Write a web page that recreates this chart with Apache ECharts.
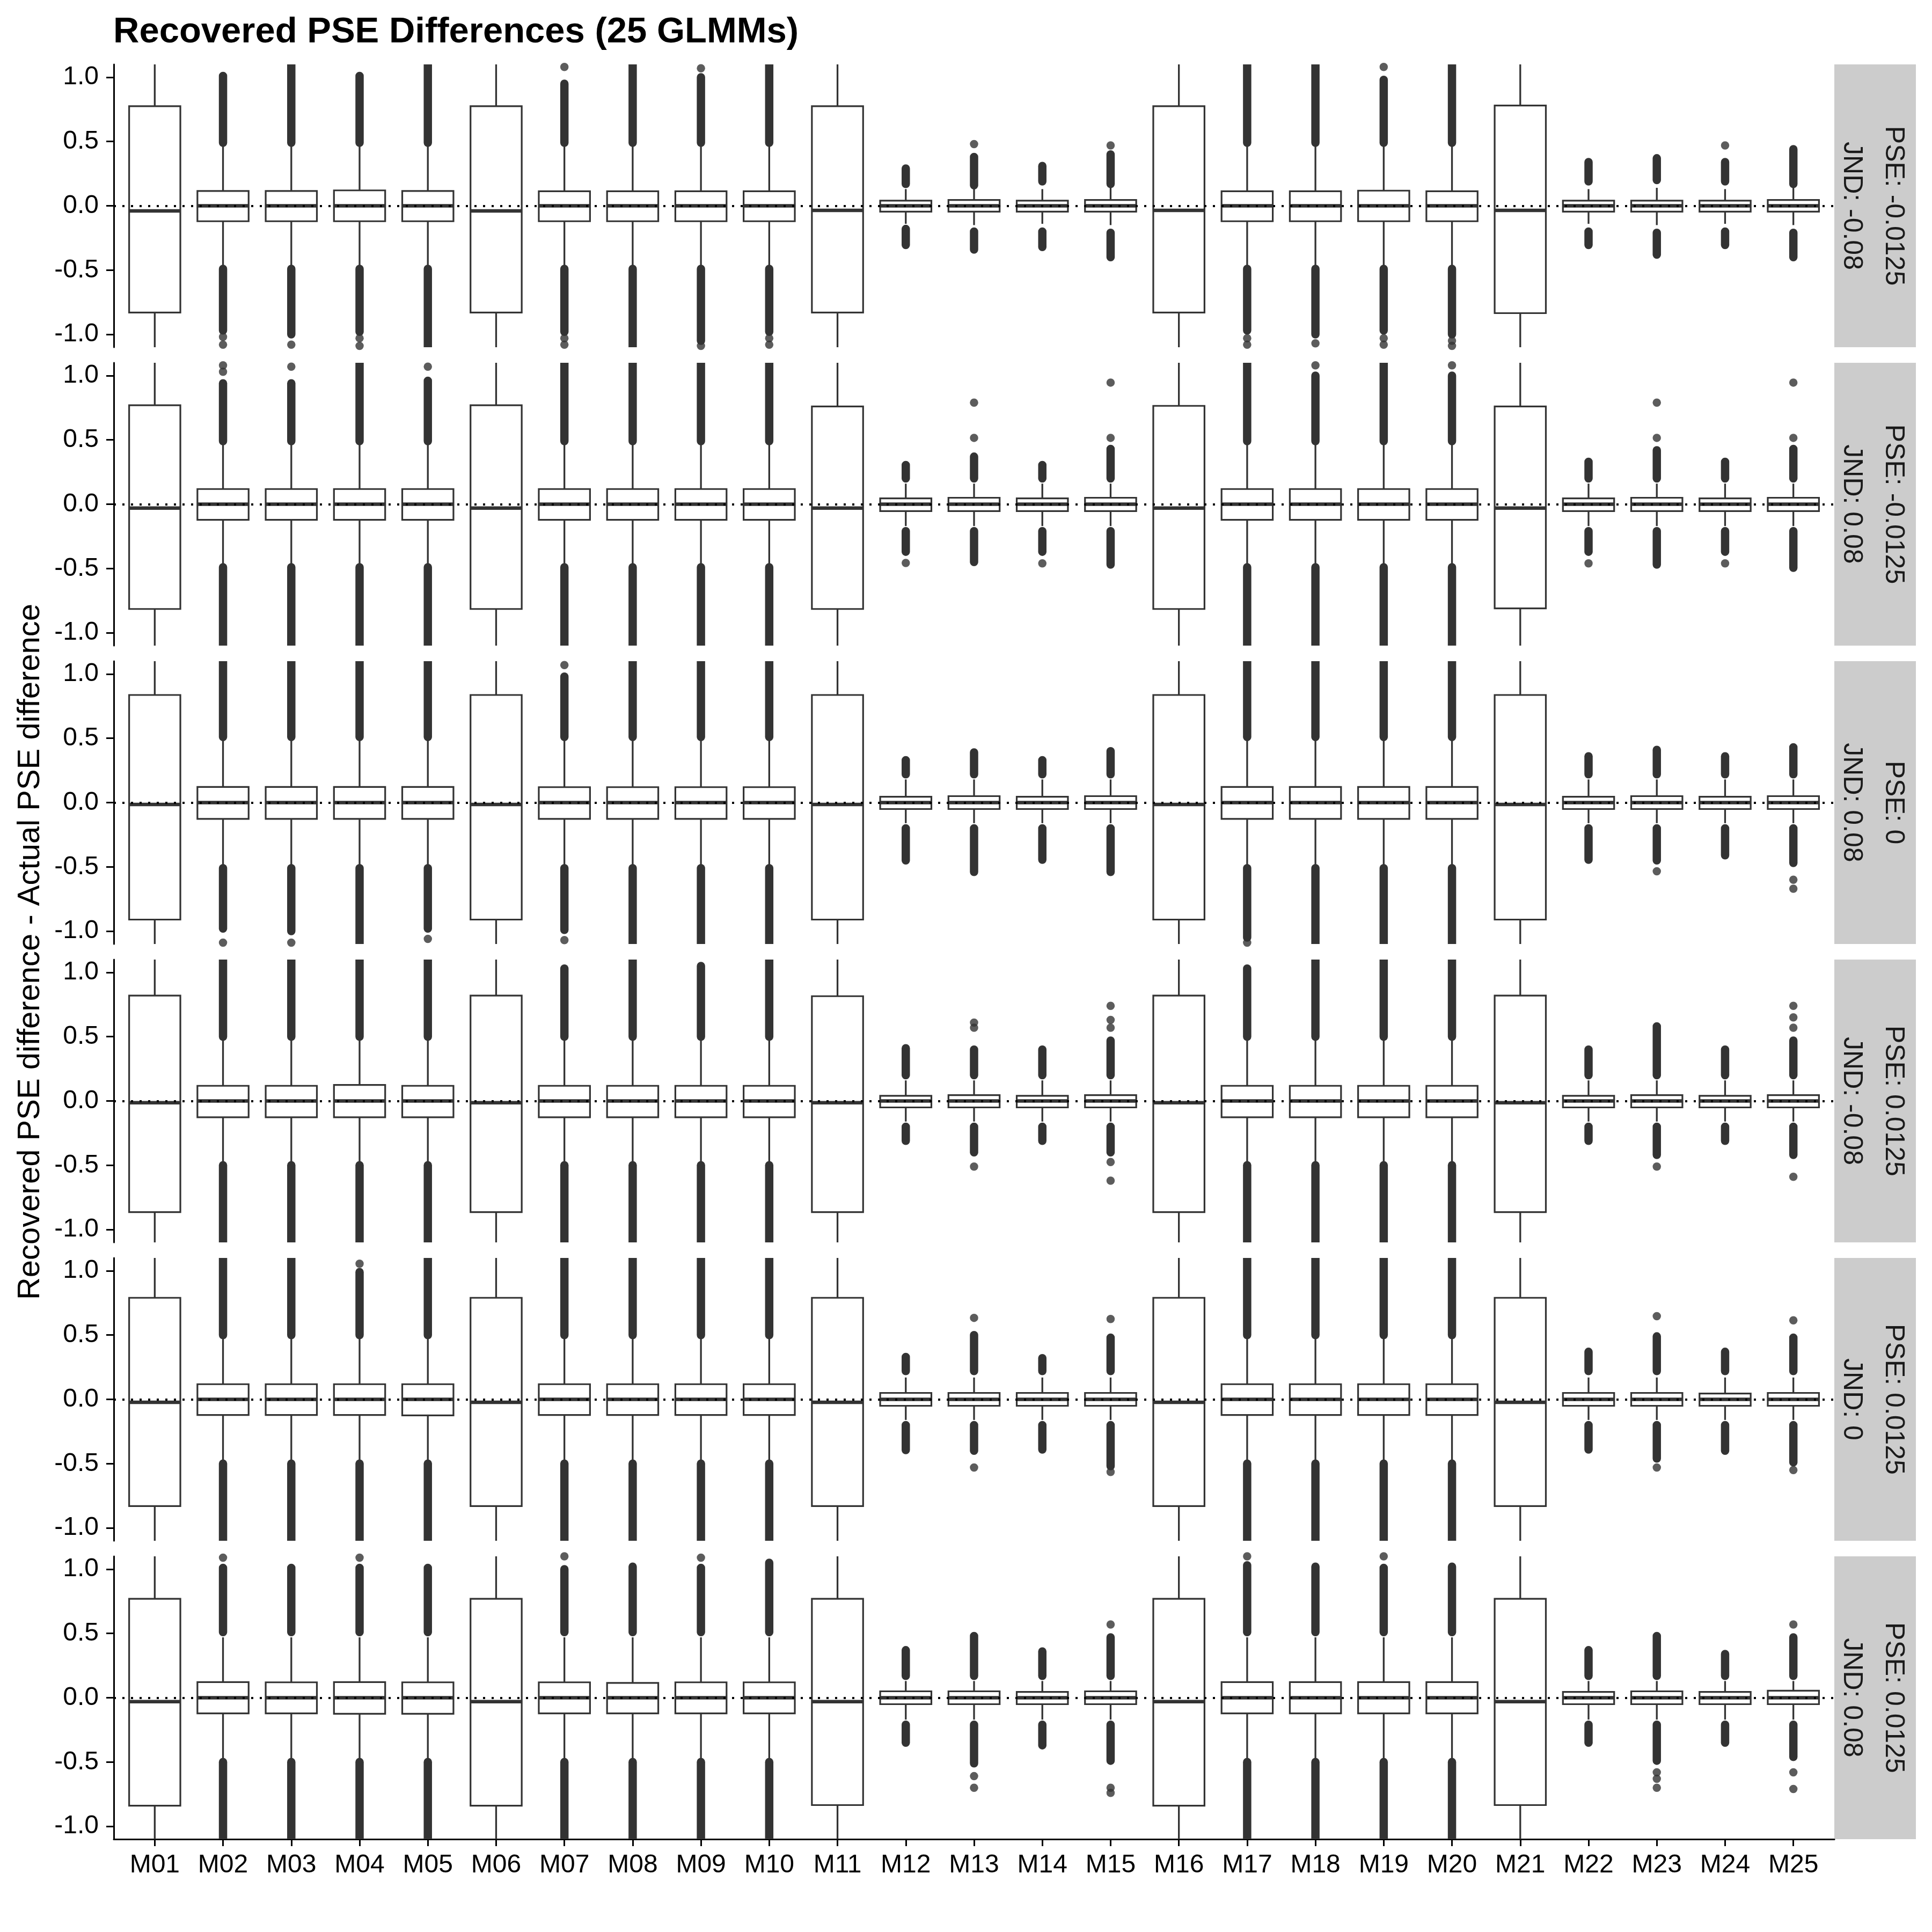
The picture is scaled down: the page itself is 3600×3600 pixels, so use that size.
<!DOCTYPE html>
<html>
<head>
<meta charset="utf-8">
<script src="https://cdn.jsdelivr.net/npm/echarts@6/dist/echarts.min.js"></script>
<style>
html,body{margin:0;padding:0;background:#ffffff;}
#chart{width:3600px;height:3600px;}
</style>
</head>
<body>
<div id="chart"></div>
<script>
// ---------------- DATA ----------------
const models = ['M01','M02','M03','M04','M05','M06','M07','M08','M09','M10','M11','M12','M13',
                'M14','M15','M16','M17','M18','M19','M20','M21','M22','M23','M24','M25'];
const yTicks = [-1, -0.5, 0, 0.5, 1];
const pseLabels = ['-0.0125', '-0.0125', '0', '0.0125', '0.0125', '0.0125'];
const jndLabels = ['-0.08', '0.08', '0.08', '-0.08', '0', '0.08'];
const titleText = 'Recovered PSE Differences (25 GLMMs)';
const yTitleText = 'Recovered PSE difference - Actual PSE difference';

// box statistics per model: [whisker low, Q1, median, Q3, whisker high]
const statsP1 = [
 [-1.25,-0.83,-0.04,0.775,1.25],[-0.47,-0.12,0,0.115,0.47],[-0.47,-0.12,0,0.115,0.47],[-0.47,-0.12,0,0.12,0.47],
 [-0.47,-0.12,0,0.115,0.47],[-1.25,-0.83,-0.04,0.775,1.25],[-0.47,-0.12,0,0.113,0.47],[-0.47,-0.12,0,0.113,0.47],
 [-0.47,-0.12,0,0.113,0.47],[-0.47,-0.12,0,0.113,0.47],[-1.25,-0.83,-0.035,0.775,1.25],[-0.14,-0.045,0,0.04,0.13],
 [-0.15,-0.045,0,0.045,0.14],[-0.14,-0.045,0,0.04,0.13],[-0.15,-0.045,0,0.045,0.14],[-1.25,-0.83,-0.036,0.775,1.25],
 [-0.47,-0.12,0,0.113,0.47],[-0.47,-0.12,0,0.113,0.47],[-0.47,-0.12,0,0.118,0.47],[-0.47,-0.12,0,0.113,0.47],
 [-1.25,-0.835,-0.036,0.78,1.25],[-0.14,-0.045,0,0.04,0.13],[-0.15,-0.045,0,0.04,0.14],[-0.14,-0.045,0,0.04,0.13],
 [-0.15,-0.045,0,0.045,0.14]
];
const statsP2 = [
 [-1.25,-0.815,-0.03,0.77,1.25],[-0.47,-0.122,0,0.118,0.47],[-0.47,-0.122,0,0.118,0.47],[-0.47,-0.122,0,0.118,0.47],
 [-0.47,-0.122,0,0.118,0.47],[-1.25,-0.815,-0.03,0.77,1.25],[-0.47,-0.122,0,0.118,0.47],[-0.47,-0.122,0,0.118,0.47],
 [-0.47,-0.122,0,0.118,0.47],[-0.47,-0.122,0,0.118,0.47],[-1.25,-0.815,-0.03,0.76,1.25],[-0.17,-0.054,0,0.045,0.16],
 [-0.17,-0.054,0,0.05,0.16],[-0.17,-0.054,0,0.045,0.16],[-0.17,-0.054,0,0.05,0.16],[-1.25,-0.815,-0.03,0.765,1.25],
 [-0.47,-0.122,0,0.118,0.47],[-0.47,-0.122,0,0.118,0.47],[-0.47,-0.122,0,0.118,0.47],[-0.47,-0.122,0,0.118,0.47],
 [-1.25,-0.81,-0.03,0.76,1.25],[-0.17,-0.054,0,0.045,0.16],[-0.17,-0.054,0,0.05,0.16],[-0.17,-0.054,0,0.045,0.16],
 [-0.17,-0.054,0,0.05,0.16]
];
const statsP3 = [
 [-1.25,-0.91,-0.015,0.837,1.25],[-0.49,-0.127,0,0.122,0.49],[-0.49,-0.127,0,0.122,0.49],[-0.49,-0.127,0,0.122,0.49],
 [-0.49,-0.127,0,0.122,0.49],[-1.25,-0.91,-0.015,0.837,1.25],[-0.49,-0.127,0,0.12,0.49],[-0.49,-0.127,0,0.12,0.49],
 [-0.49,-0.127,0,0.12,0.49],[-0.49,-0.127,0,0.12,0.49],[-1.25,-0.91,-0.015,0.837,1.25],[-0.16,-0.05,0,0.045,0.18],
 [-0.16,-0.05,0,0.05,0.18],[-0.16,-0.05,0,0.045,0.18],[-0.16,-0.05,0,0.05,0.18],[-1.25,-0.91,-0.015,0.837,1.25],
 [-0.49,-0.127,0,0.122,0.49],[-0.49,-0.127,0,0.122,0.49],[-0.49,-0.127,0,0.122,0.49],[-0.49,-0.127,0,0.122,0.49],
 [-1.25,-0.91,-0.015,0.837,1.25],[-0.16,-0.05,0,0.045,0.18],[-0.16,-0.05,0,0.05,0.18],[-0.16,-0.05,0,0.045,0.18],
 [-0.16,-0.05,0,0.05,0.18]
];
const statsP4 = [
 [-1.25,-0.865,-0.014,0.82,1.25],[-0.47,-0.127,0,0.118,0.47],[-0.47,-0.127,0,0.118,0.47],[-0.47,-0.127,0,0.125,0.47],
 [-0.47,-0.127,0,0.118,0.47],[-1.25,-0.865,-0.014,0.82,1.25],[-0.47,-0.127,0,0.118,0.47],[-0.47,-0.127,0,0.118,0.47],
 [-0.47,-0.127,0,0.118,0.47],[-0.47,-0.127,0,0.118,0.47],[-1.25,-0.865,-0.014,0.815,1.25],[-0.16,-0.05,0,0.04,0.16],
 [-0.16,-0.05,0,0.045,0.16],[-0.16,-0.05,0,0.04,0.16],[-0.16,-0.05,0,0.045,0.16],[-1.25,-0.865,-0.014,0.82,1.25],
 [-0.47,-0.127,0,0.118,0.47],[-0.47,-0.127,0,0.118,0.47],[-0.47,-0.127,0,0.118,0.47],[-0.47,-0.127,0,0.118,0.47],
 [-1.25,-0.865,-0.014,0.82,1.25],[-0.16,-0.05,0,0.04,0.16],[-0.16,-0.05,0,0.045,0.16],[-0.16,-0.05,0,0.04,0.16],
 [-0.16,-0.05,0,0.045,0.16]
];
const statsP5 = [
 [-1.25,-0.83,-0.023,0.79,1.25],[-0.47,-0.122,0,0.118,0.47],[-0.47,-0.122,0,0.118,0.47],[-0.47,-0.122,0,0.118,0.47],
 [-0.47,-0.125,0,0.118,0.47],[-1.25,-0.83,-0.023,0.79,1.25],[-0.47,-0.122,0,0.118,0.47],[-0.47,-0.122,0,0.118,0.47],
 [-0.47,-0.122,0,0.118,0.47],[-0.47,-0.122,0,0.118,0.47],[-1.25,-0.83,-0.023,0.79,1.25],[-0.16,-0.05,0,0.05,0.17],
 [-0.16,-0.05,0,0.05,0.17],[-0.16,-0.05,0,0.05,0.17],[-0.16,-0.05,0,0.05,0.17],[-1.25,-0.83,-0.023,0.79,1.25],
 [-0.47,-0.122,0,0.118,0.47],[-0.47,-0.122,0,0.118,0.47],[-0.47,-0.122,0,0.118,0.47],[-0.47,-0.122,0,0.118,0.47],
 [-1.25,-0.83,-0.023,0.79,1.25],[-0.16,-0.05,0,0.05,0.17],[-0.16,-0.05,0,0.05,0.17],[-0.16,-0.05,0,0.045,0.17],
 [-0.16,-0.05,0,0.05,0.17]
];
const statsP6 = [
 [-1.25,-0.84,-0.03,0.77,1.25],[-0.47,-0.122,0,0.122,0.47],[-0.47,-0.122,0,0.12,0.47],[-0.47,-0.125,0,0.122,0.47],
 [-0.47,-0.125,0,0.12,0.47],[-1.25,-0.84,-0.03,0.77,1.25],[-0.47,-0.122,0,0.12,0.47],[-0.47,-0.122,0,0.115,0.47],
 [-0.47,-0.122,0,0.12,0.47],[-0.47,-0.122,0,0.12,0.47],[-1.25,-0.835,-0.03,0.77,1.25],[-0.17,-0.05,0,0.05,0.13],
 [-0.17,-0.05,0,0.05,0.13],[-0.17,-0.05,0,0.045,0.13],[-0.17,-0.05,0,0.05,0.13],[-1.25,-0.84,-0.03,0.77,1.25],
 [-0.47,-0.122,0,0.122,0.47],[-0.47,-0.122,0,0.122,0.47],[-0.47,-0.122,0,0.122,0.47],[-0.47,-0.122,0,0.122,0.47],
 [-1.25,-0.835,-0.03,0.77,1.25],[-0.17,-0.05,0,0.045,0.13],[-0.17,-0.05,0,0.05,0.13],[-0.17,-0.05,0,0.045,0.13],
 [-0.17,-0.05,0,0.055,0.13]
];

// dense runs of outliers per model: [first outlier, last outlier] (null = none)
const upperP1 = [null,[0.49,1.01],[0.49,1.15],[0.49,1.01],[0.49,1.15],null,[0.49,0.95],[0.49,1.15],[0.49,1.0],[0.49,1.15],null,
 [0.17,0.29],[0.16,0.38],[0.19,0.31],[0.17,0.40],null,[0.49,1.15],[0.49,1.15],[0.49,0.98],[0.49,1.15],null,
 [0.19,0.34],[0.2,0.37],[0.19,0.34],[0.17,0.44]];
const lowerP1 = [null,[-0.49,-0.97],[-0.49,-1.0],[-0.49,-0.98],[-0.49,-1.15],null,[-0.49,-0.98],[-0.49,-1.15],[-0.49,-1.05],[-0.49,-0.98],null,
 [-0.18,-0.305],[-0.2,-0.34],[-0.2,-0.32],[-0.21,-0.40],null,[-0.49,-0.97],[-0.49,-1.0],[-0.49,-0.97],[-0.49,-1.0],null,
 [-0.2,-0.305],[-0.21,-0.38],[-0.2,-0.305],[-0.21,-0.40]];
const upperP2 = [null,[0.49,0.94],[0.49,0.94],[0.49,1.15],[0.49,0.96],null,[0.49,1.15],[0.49,1.15],[0.49,1.15],[0.49,1.15],null,
 [0.2,0.305],[0.2,0.37],[0.2,0.305],[0.2,0.43],null,[0.49,1.15],[0.49,1.0],[0.49,1.15],[0.49,1.0],null,
 [0.2,0.33],[0.2,0.42],[0.2,0.33],[0.2,0.43]];
const lowerP2 = [null,[-0.49,-1.15],[-0.49,-1.15],[-0.49,-1.15],[-0.49,-1.15],null,[-0.49,-1.15],[-0.49,-1.15],[-0.49,-1.15],[-0.49,-1.15],null,
 [-0.21,-0.37],[-0.21,-0.45],[-0.21,-0.37],[-0.21,-0.47],null,[-0.49,-1.15],[-0.49,-1.15],[-0.49,-1.15],[-0.49,-1.15],null,
 [-0.21,-0.37],[-0.21,-0.47],[-0.21,-0.37],[-0.21,-0.495]];
const upperP3 = [null,[0.51,1.15],[0.51,1.15],[0.51,1.15],[0.51,1.15],null,[0.51,0.98],[0.51,1.15],[0.51,1.15],[0.51,1.15],null,
 [0.22,0.33],[0.22,0.39],[0.22,0.33],[0.22,0.40],null,[0.51,1.15],[0.51,1.15],[0.51,1.15],[0.51,1.15],null,
 [0.22,0.36],[0.22,0.41],[0.22,0.36],[0.22,0.43]];
const lowerP3 = [null,[-0.51,-0.98],[-0.51,-1.0],[-0.51,-1.15],[-0.51,-0.98],null,[-0.51,-0.99],[-0.51,-1.15],[-0.51,-1.15],[-0.51,-1.15],null,
 [-0.2,-0.45],[-0.2,-0.54],[-0.2,-0.445],[-0.2,-0.54],null,[-0.51,-1.05],[-0.51,-1.15],[-0.51,-1.15],[-0.51,-1.15],null,
 [-0.2,-0.445],[-0.2,-0.45],[-0.2,-0.41],[-0.2,-0.47]];
const upperP4 = [null,[0.5,1.15],[0.5,1.15],[0.5,1.15],[0.5,1.15],null,[0.5,1.03],[0.5,1.15],[0.5,1.05],[0.5,1.15],null,
 [0.2,0.41],[0.2,0.40],[0.2,0.40],[0.2,0.47],null,[0.5,1.03],[0.5,1.15],[0.5,1.15],[0.5,1.15],null,
 [0.2,0.40],[0.2,0.58],[0.2,0.40],[0.2,0.47]];
const lowerP4 = [null,[-0.5,-1.15],[-0.5,-1.15],[-0.5,-1.15],[-0.5,-1.15],null,[-0.5,-1.15],[-0.5,-1.15],[-0.5,-1.15],[-0.5,-1.15],null,
 [-0.2,-0.31],[-0.2,-0.40],[-0.2,-0.31],[-0.2,-0.40],null,[-0.5,-1.15],[-0.5,-1.15],[-0.5,-1.15],[-0.5,-1.15],null,
 [-0.2,-0.31],[-0.2,-0.42],[-0.2,-0.31],[-0.2,-0.42]];
const upperP5 = [null,[0.5,1.15],[0.5,1.15],[0.5,0.99],[0.5,1.15],null,[0.5,1.15],[0.5,1.15],[0.5,1.15],[0.5,1.15],null,
 [0.22,0.33],[0.22,0.50],[0.22,0.32],[0.22,0.48],null,[0.5,1.15],[0.5,1.15],[0.5,1.15],[0.5,1.15],null,
 [0.22,0.37],[0.22,0.49],[0.22,0.37],[0.22,0.48]];
const lowerP5 = [null,[-0.5,-1.15],[-0.5,-1.15],[-0.5,-1.15],[-0.5,-1.15],null,[-0.5,-1.15],[-0.5,-1.15],[-0.5,-1.15],[-0.5,-1.15],null,
 [-0.2,-0.395],[-0.2,-0.40],[-0.2,-0.39],[-0.2,-0.52],null,[-0.5,-1.15],[-0.5,-1.15],[-0.5,-1.15],[-0.5,-1.15],null,
 [-0.2,-0.39],[-0.2,-0.46],[-0.2,-0.40],[-0.2,-0.49]];
const upperP6 = [null,[0.51,1.01],[0.51,1.01],[0.51,1.01],[0.51,1.01],null,[0.51,1.0],[0.51,1.02],[0.51,1.01],[0.51,1.05],null,
 [0.17,0.37],[0.17,0.48],[0.17,0.36],[0.17,0.47],null,[0.51,1.03],[0.51,1.02],[0.51,1.01],[0.51,1.02],null,
 [0.17,0.37],[0.17,0.48],[0.17,0.34],[0.17,0.47]];
const lowerP6 = [null,[-0.5,-1.15],[-0.5,-1.15],[-0.5,-1.15],[-0.5,-1.15],null,[-0.5,-1.15],[-0.5,-1.15],[-0.5,-1.15],[-0.5,-1.15],null,
 [-0.21,-0.35],[-0.21,-0.51],[-0.21,-0.37],[-0.21,-0.49],null,[-0.5,-1.15],[-0.5,-1.15],[-0.5,-1.15],[-0.5,-1.15],null,
 [-0.21,-0.35],[-0.21,-0.49],[-0.21,-0.35],[-0.21,-0.46]];

// isolated outliers: [model number, value]
const dotsP1 = [[7,1.08],[9,1.07],[19,1.08],[13,0.48],[15,0.47],[24,0.47],
 [2,-1.02],[2,-1.08],[3,-1.08],[4,-1.03],[4,-1.09],[7,-1.03],[7,-1.08],[9,-1.09],[10,-1.03],[10,-1.08],
 [17,-1.03],[17,-1.08],[18,-1.07],[19,-1.03],[19,-1.08],[20,-1.05],[20,-1.09]];
const dotsP2 = [[2,1.03],[2,1.08],[3,1.07],[5,1.07],[18,1.08],[20,1.08],[12,-0.457],[13,0.79],[13,0.516],[14,-0.46],
 [15,0.946],[15,0.516],[22,-0.46],[23,0.79],[23,0.516],[24,-0.46],[25,0.946],[25,0.516]];
const dotsP3 = [[2,-1.09],[3,-1.09],[5,-1.06],[7,-1.07],[7,1.07],[17,-1.09],[23,-0.534],[25,-0.60],[25,-0.67]];
const dotsP4 = [[13,0.61],[13,0.57],[13,-0.51],[15,0.74],[15,0.63],[15,0.57],[15,-0.475],[15,-0.62],[23,-0.51],
 [25,0.74],[25,0.65],[25,0.57],[25,-0.59]];
const dotsP5 = [[4,1.055],[13,0.634],[13,-0.53],[15,0.625],[15,-0.565],[23,0.647],[23,-0.53],[25,0.615],[25,-0.55]];
const dotsP6 = [[2,1.09],[4,1.09],[7,1.1],[9,1.09],[17,1.1],[19,1.1],[13,-0.61],[13,-0.70],[15,0.57],[15,-0.70],[15,-0.74],
 [23,-0.58],[23,-0.63],[23,-0.70],[25,0.57],[25,-0.58],[25,-0.71]];

// ---------------- CHART ----------------
const statsAll = [statsP1, statsP2, statsP3, statsP4, statsP5, statsP6];
const upperAll = [upperP1, upperP2, upperP3, upperP4, upperP5, upperP6];
const lowerAll = [lowerP1, lowerP2, lowerP3, lowerP4, lowerP5, lowerP6];
const dotsAll = [dotsP1, dotsP2, dotsP3, dotsP4, dotsP5, dotsP6];

const FONT = '"Liberation Sans", Arial, Helvetica, sans-serif';
const INK = '#333333';
const PANEL_TOP = 120, PANEL_H = 527, PANEL_STEP = 556;
const GRID_L = 212, GRID_R = 3418;
const STRIP_W = 152;
const BOX_W = 0.75;
const OUT_D = 15.5;
const xCats = models.map((m, i) => i + 1);

const grids = [], xAxes = [], yAxes = [], series = [], graphics = [];

for (let p = 0; p < 6; p++) {
  const top = PANEL_TOP + p * PANEL_STEP;
  const isBottom = p === 5;
  grids.push({ left: GRID_L, top: top, width: GRID_R - GRID_L, height: PANEL_H });
  xAxes.push({
    type: 'value', gridIndex: p, min: 0.4, max: 25.6,
    axisLine: { show: isBottom, onZero: false, lineStyle: { color: '#000', width: 3 } },
    axisTick: { show: isBottom, customValues: xCats, length: 13, lineStyle: { color: '#000', width: 3 } },
    axisLabel: { show: isBottom, customValues: xCats, formatter: v => models[Math.round(v) - 1],
      fontSize: 48, color: '#000', fontFamily: FONT, margin: 25 },
    splitLine: { show: false }
  });
  yAxes.push({
    type: 'value', gridIndex: p, min: -1.1, max: 1.1,
    axisLine: { show: true, onZero: false, lineStyle: { color: '#000', width: 3 } },
    axisTick: { show: true, customValues: yTicks, length: 14, lineStyle: { color: '#000', width: 3 } },
    axisLabel: { customValues: yTicks, formatter: v => Number(v).toFixed(1),
      fontSize: 48, color: '#000', fontFamily: FONT, margin: 28 },
    splitLine: { show: false }
  });

  // boxes + whiskers
  series.push({
    type: 'custom', xAxisIndex: p, yAxisIndex: p, clip: true, z: 2, silent: true,
    encode: { x: 0, y: [1, 2, 3, 4, 5] },
    data: statsAll[p].map((s, i) => [i + 1].concat(s)),
    renderItem: function (params, api) {
      const x = api.value(0);
      const lo = api.coord([x, api.value(1)]);
      const q1 = api.coord([x, api.value(2)]);
      const md = api.coord([x, api.value(3)]);
      const q3 = api.coord([x, api.value(4)]);
      const hi = api.coord([x, api.value(5)]);
      const hw = api.size([BOX_W, 0])[0] / 2;
      const cx = q1[0];
      return {
        type: 'group',
        children: [
          { type: 'line', shape: { x1: cx, y1: q3[1], x2: cx, y2: hi[1] }, style: { stroke: INK, lineWidth: 3.3 } },
          { type: 'line', shape: { x1: cx, y1: q1[1], x2: cx, y2: lo[1] }, style: { stroke: INK, lineWidth: 3.3 } },
          { type: 'rect', shape: { x: cx - hw, y: q3[1], width: 2 * hw, height: q1[1] - q3[1] },
            style: { fill: '#ffffff', stroke: INK, lineWidth: 3.2 } },
          { type: 'line', shape: { x1: cx - hw, y1: md[1], x2: cx + hw, y2: md[1] }, style: { stroke: INK, lineWidth: 6.5 } }
        ]
      };
    }
  });

  // dense outlier runs
  const runs = [];
  upperAll[p].forEach((r, i) => { if (r) runs.push([i + 1, r[0], r[1]]); });
  lowerAll[p].forEach((r, i) => { if (r) runs.push([i + 1, r[0], r[1]]); });
  series.push({
    type: 'custom', xAxisIndex: p, yAxisIndex: p, clip: true, z: 3, silent: true,
    encode: { x: 0, y: [1, 2] },
    data: runs,
    renderItem: function (params, api) {
      const a = api.coord([api.value(0), api.value(1)]);
      const b = api.coord([api.value(0), api.value(2)]);
      return { type: 'line', shape: { x1: a[0], y1: a[1], x2: b[0], y2: b[1] },
        style: { stroke: INK, lineWidth: OUT_D, lineCap: 'round' } };
    }
  });

  // isolated outliers + dotted zero reference line
  series.push({
    type: 'scatter', xAxisIndex: p, yAxisIndex: p, clip: true, z: 3, silent: true,
    symbol: 'circle', symbolSize: OUT_D, itemStyle: { color: INK },
    data: dotsAll[p],
    markLine: {
      silent: true, symbol: ['none', 'none'], label: { show: false }, animation: false,
      lineStyle: { color: '#000', width: 4, type: [4, 12] },
      emphasis: { disabled: true },
      data: [{ yAxis: 0 }]
    }
  });

  // facet strip
  graphics.push({ type: 'rect', shape: { x: GRID_R, y: top, width: STRIP_W, height: PANEL_H },
    style: { fill: '#CCCCCC' }, silent: true });
  graphics.push({ type: 'text', x: 3528, y: top + PANEL_H / 2, rotation: -Math.PI / 2, silent: true,
    style: { text: 'PSE: ' + pseLabels[p], fontSize: 50, fontFamily: FONT, fill: '#1A1A1A',
      align: 'center', verticalAlign: 'middle', textAlign: 'center', textVerticalAlign: 'middle' } });
  graphics.push({ type: 'text', x: 3450, y: top + PANEL_H / 2, rotation: -Math.PI / 2, silent: true,
    style: { text: 'JND: ' + jndLabels[p], fontSize: 50, fontFamily: FONT, fill: '#1A1A1A',
      align: 'center', verticalAlign: 'middle', textAlign: 'center', textVerticalAlign: 'middle' } });
}

// y-axis title
graphics.push({ type: 'text', x: 57, y: PANEL_TOP + (5 * PANEL_STEP + PANEL_H) / 2, rotation: Math.PI / 2, silent: true,
  style: { text: yTitleText, fontSize: 58, fontFamily: FONT, fill: '#000',
    align: 'center', verticalAlign: 'middle', textAlign: 'center', textVerticalAlign: 'middle' } });

const chart = echarts.init(document.getElementById('chart'), null, { renderer: 'canvas' });
chart.setOption({
  animation: false,
  backgroundColor: '#ffffff',
  title: { text: titleText, left: 211, top: 27, padding: 0,
    textStyle: { fontSize: 67, fontWeight: 'bold', color: '#000', fontFamily: FONT } },
  grid: grids,
  xAxis: xAxes,
  yAxis: yAxes,
  series: series,
  graphic: { elements: graphics }
});
</script>
</body>
</html>
